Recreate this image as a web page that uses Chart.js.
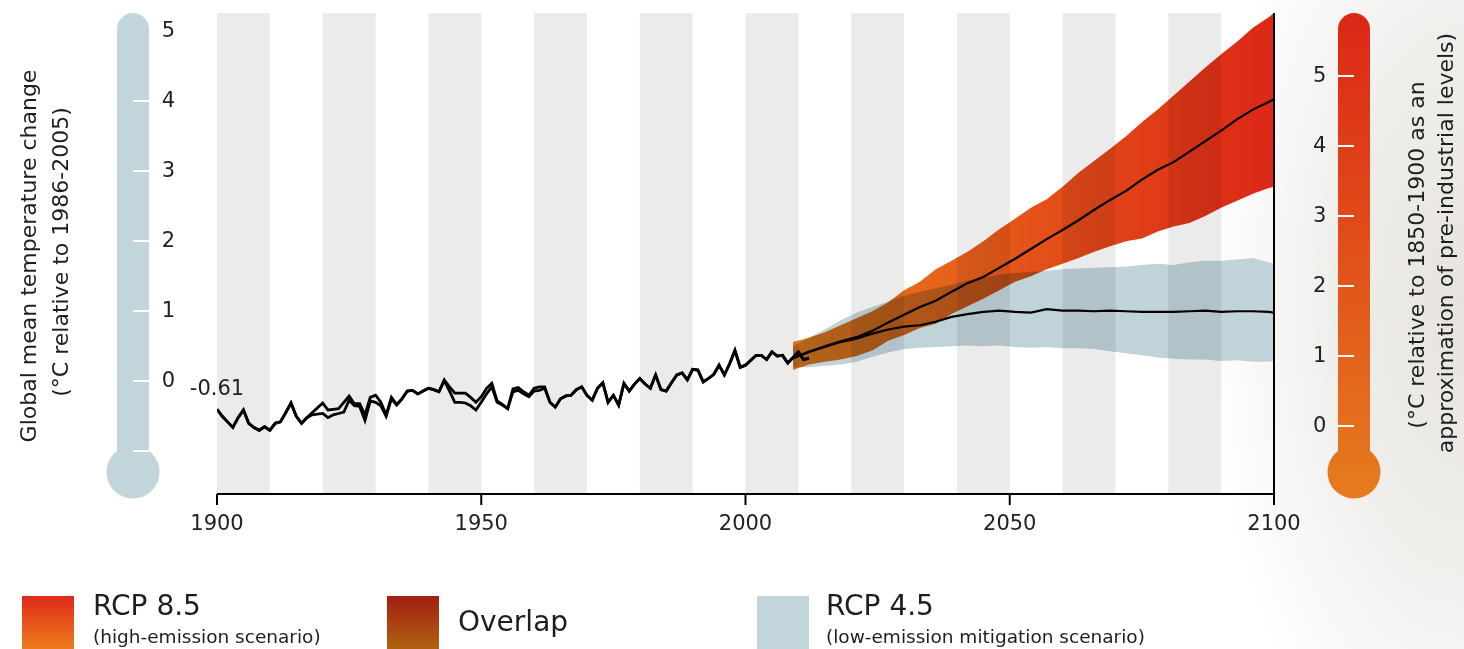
<!DOCTYPE html>
<html>
<head>
<meta charset="utf-8">
<script src="https://cdn.jsdelivr.net/npm/chart.js@4.4.1/dist/chart.umd.min.js"></script>
<style>
  html, body { margin: 0; padding: 0; }
  body {
    width: 1464px; height: 649px; overflow: hidden; position: relative;
    background: radial-gradient(ellipse 260px 520px at 1464px 300px, #e6e3df 0%, #efedea 45%, rgba(255,255,255,0) 100%), #fff;
    font-family: 'DejaVu Sans', sans-serif; color: #1e1e1e;
  }
  #chart { position: absolute; left: 0; top: 0; }
  .sw { position: absolute; top: 596px; width: 52px; height: 53px; }
  .big { position: absolute; top: 589px; font-size: 28px; line-height: 34px; white-space: nowrap; }
  .small { position: absolute; top: 625px; font-size: 18.5px; line-height: 24px; white-space: nowrap; }
</style>
</head>
<body>
<canvas id="chart" width="1464" height="649"></canvas>

<div class="sw" style="left:22px;background:linear-gradient(#df2a18,#ec7c1c);"></div>
<div class="big" style="left:93px;">RCP 8.5</div>
<div class="small" style="left:93px;">(high-emission scenario)</div>

<div class="sw" style="left:387px;background:linear-gradient(#a31f12,#b0620f);"></div>
<div class="big" style="left:458px;top:605px;">Overlap</div>

<div class="sw" style="left:757px;background:#c2d5db;"></div>
<div class="big" style="left:826px;">RCP 4.5</div>
<div class="small" style="left:826px;">(low-emission mitigation scenario)</div>

<script>
// observed record, one value per year from histStart (°C relative to 1986-2005)
const histStart = 1900;
const histLow = [
  -0.40, -0.50, -0.58, -0.66, -0.52, -0.41, -0.60, -0.66, -0.70, -0.65,
  -0.70, -0.60, -0.58, -0.45, -0.31, -0.50, -0.60, -0.52, -0.48, -0.47,
  -0.46, -0.52, -0.48, -0.46, -0.44, -0.27, -0.35, -0.36, -0.56, -0.28,
  -0.30, -0.35, -0.50, -0.25, -0.34, -0.25, -0.14, -0.13, -0.18, -0.14,
  -0.10, -0.12, -0.15, 0.01, -0.14, -0.30, -0.30, -0.31, -0.35, -0.41,
  -0.30, -0.18, -0.08, -0.30, -0.34, -0.39, -0.15, -0.13, -0.18, -0.22,
  -0.14, -0.13, -0.10, -0.30, -0.37, -0.25, -0.21, -0.20, -0.12, -0.08,
  -0.20, -0.27, -0.10, -0.02, -0.30, -0.20, -0.34, -0.03, -0.14, -0.04,
  0.04, -0.04, -0.10, 0.09, -0.12, -0.14, -0.02, 0.09, 0.12, 0.02,
  0.17, 0.16, -0.01, 0.04, 0.10, 0.23, 0.09, 0.25, 0.44, 0.20,
  0.23, 0.30, 0.37, 0.37, 0.31, 0.42, 0.36, 0.37, 0.26, 0.34,
  0.42, 0.31, 0.33
];
const histHigh = [
  -0.40, -0.50, -0.58, -0.66, -0.52, -0.41, -0.60, -0.66, -0.70, -0.65,
  -0.70, -0.60, -0.58, -0.45, -0.31, -0.50, -0.60, -0.52, -0.45, -0.38,
  -0.31, -0.41, -0.40, -0.39, -0.30, -0.21, -0.32, -0.32, -0.48, -0.23,
  -0.20, -0.30, -0.48, -0.23, -0.33, -0.25, -0.14, -0.13, -0.18, -0.14,
  -0.10, -0.12, -0.15, 0.02, -0.08, -0.17, -0.17, -0.17, -0.23, -0.30,
  -0.22, -0.10, -0.03, -0.28, -0.33, -0.39, -0.11, -0.09, -0.15, -0.20,
  -0.10, -0.08, -0.08, -0.30, -0.37, -0.25, -0.21, -0.20, -0.12, -0.08,
  -0.20, -0.27, -0.10, -0.02, -0.30, -0.20, -0.34, -0.03, -0.14, -0.04,
  0.04, -0.04, -0.10, 0.09, -0.12, -0.14, -0.02, 0.09, 0.12, 0.02,
  0.17, 0.16, -0.01, 0.04, 0.10, 0.23, 0.09, 0.25, 0.44, 0.20,
  0.23, 0.30, 0.37, 0.37, 0.31, 0.42, 0.36, 0.37, 0.26, 0.34,
  0.42, 0.31, 0.33
];

// projections
const projYears = [2009, 2012, 2015, 2018, 2021, 2024, 2027, 2030, 2033, 2036, 2039,
  2042, 2045, 2048, 2051, 2054, 2057, 2060, 2063, 2066, 2069, 2072, 2075,
  2078, 2081, 2084, 2087, 2090, 2093, 2096, 2099, 2100];
const rcp85Mean = [0.33, 0.42, 0.50, 0.57, 0.63, 0.72, 0.84, 0.95, 1.06, 1.15, 1.28,
  1.40, 1.49, 1.62, 1.75, 1.89, 2.03, 2.16, 2.30, 2.45, 2.59, 2.72, 2.88,
  3.02, 3.13, 3.28, 3.43, 3.58, 3.74, 3.88, 3.99, 4.03];
const rcp85Upper = [0.56, 0.62, 0.70, 0.80, 0.90, 1.00, 1.13, 1.30, 1.42, 1.60, 1.72,
  1.85, 2.00, 2.17, 2.32, 2.48, 2.60, 2.78, 2.98, 3.15, 3.32, 3.50, 3.70,
  3.88, 4.08, 4.28, 4.48, 4.67, 4.85, 5.05, 5.20, 5.26];
const rcp85Lower = [0.16, 0.24, 0.28, 0.31, 0.36, 0.44, 0.58, 0.66, 0.76, 0.82, 0.96,
  1.07, 1.18, 1.30, 1.42, 1.50, 1.60, 1.68, 1.76, 1.85, 1.93, 2.00, 2.04,
  2.14, 2.21, 2.26, 2.36, 2.48, 2.58, 2.68, 2.76, 2.78];
const rcp45Mean = [0.33, 0.42, 0.49, 0.56, 0.61, 0.68, 0.74, 0.78, 0.80, 0.85, 0.92,
  0.96, 0.99, 1.01, 0.99, 0.98, 1.03, 1.01, 1.01, 1.00, 1.01, 1.00, 0.99,
  0.99, 0.99, 1.00, 1.01, 0.99, 1.00, 1.00, 0.99, 0.98];
const rcp45Upper = [0.50, 0.62, 0.74, 0.87, 0.98, 1.06, 1.14, 1.22, 1.28, 1.33, 1.38,
  1.44, 1.48, 1.52, 1.55, 1.56, 1.58, 1.60, 1.61, 1.62, 1.63, 1.64, 1.66,
  1.68, 1.66, 1.70, 1.72, 1.72, 1.74, 1.76, 1.70, 1.68];
const rcp45Lower = [0.20, 0.20, 0.22, 0.24, 0.28, 0.35, 0.41, 0.46, 0.48, 0.49, 0.50,
  0.51, 0.50, 0.51, 0.49, 0.48, 0.49, 0.47, 0.47, 0.46, 0.43, 0.40, 0.37,
  0.34, 0.32, 0.31, 0.31, 0.29, 0.30, 0.28, 0.28, 0.29];

// axes
const xTicks = [1900, 1950, 2000, 2050, 2100];
const leftTicks = [0, 1, 2, 3, 4, 5];
const leftMarks = [-1, 0, 1, 2, 3, 4];
const rightTicks = [0, 1, 2, 3, 4, 5];
const leftMin = -1.61, leftMax = 5.26;
const preIndustrialOffset = 0.643;
const baselineLabel = '-0.61';
const leftTitle = ['Global mean temperature change', '(°C relative to 1986-2005)'];
const rightTitle = ['(°C relative to 1850-1900 as an', 'approximation of pre-industrial levels)'];

const FONT = "'DejaVu Sans', sans-serif";
Chart.defaults.font.family = FONT;
Chart.defaults.color = '#222';

const histPts = arr => arr.map((v, i) => ({ x: histStart + i, y: v }));
const projPts = arr => arr.map((v, i) => ({ x: projYears[i], y: v }));

function rcp85Fill(context) {
  const chart = context.chart;
  const { ctx, chartArea, scales } = chart;
  if (!chartArea) return '#e4521a';
  const g = ctx.createLinearGradient(scales.x.getPixelForValue(2009), 0, scales.x.getPixelForValue(2100), 0);
  g.addColorStop(0, '#ec7a1e');
  g.addColorStop(0.35, '#e6601a');
  g.addColorStop(0.6, '#e24818');
  g.addColorStop(1, '#dc2716');
  return g;
}

const decor = {
  id: 'decor',
  beforeDraw(chart) {
    const { ctx, chartArea, scales } = chart;
    const top = chartArea.top;
    ctx.save();
    // left thermometer
    ctx.fillStyle = '#c2d5db';
    ctx.beginPath();
    ctx.roundRect(117, top, 32, 470 - top, [16, 16, 0, 0]);
    ctx.fill();
    ctx.beginPath();
    ctx.arc(133, 472, 26.5, 0, Math.PI * 2);
    ctx.fill();
    ctx.strokeStyle = '#fff';
    ctx.lineWidth = 2;
    leftMarks.forEach(v => {
      const y = Math.round(scales.y.getPixelForValue(v));
      ctx.beginPath(); ctx.moveTo(133, y); ctx.lineTo(149, y); ctx.stroke();
    });
    // right thermometer
    const g = ctx.createLinearGradient(0, top, 0, 498);
    g.addColorStop(0, '#dc2716');
    g.addColorStop(0.5, '#e1501a');
    g.addColorStop(1, '#e67c1e');
    ctx.fillStyle = g;
    ctx.beginPath();
    ctx.roundRect(1338, top, 32, 470 - top, [16, 16, 0, 0]);
    ctx.fill();
    ctx.beginPath();
    ctx.arc(1354, 472, 26.5, 0, Math.PI * 2);
    ctx.fill();
    rightTicks.forEach(v => {
      const y = Math.round(scales.y2.getPixelForValue(v));
      ctx.beginPath(); ctx.moveTo(1338, y); ctx.lineTo(1354, y); ctx.stroke();
    });
    // axis titles
    ctx.fillStyle = '#1e1e1e';
    ctx.font = '22px ' + FONT;
    ctx.textAlign = 'center';
    ctx.textBaseline = 'middle';
    [[leftTitle[0], 30, 256], [leftTitle[1], 62, 252], [rightTitle[0], 1418, 255], [rightTitle[1], 1447, 243]]
      .forEach(([t, x, y]) => {
        ctx.save();
        ctx.translate(x, y);
        ctx.rotate(-Math.PI / 2);
        ctx.fillText(t, 0, 0);
        ctx.restore();
      });
    ctx.restore();
  },
  beforeDatasetsDraw(chart) {
    const { ctx, chartArea, scales } = chart;
    ctx.save();
    ctx.fillStyle = '#ebebeb';
    for (let yr = xTicks[0]; yr < xTicks[xTicks.length - 1]; yr += 20) {
      const x0 = scales.x.getPixelForValue(yr);
      const x1 = scales.x.getPixelForValue(yr + 10);
      ctx.fillRect(x0, chartArea.top, x1 - x0, chartArea.bottom - chartArea.top);
    }
    ctx.restore();
    ctx.globalCompositeOperation = 'multiply';
  },
  afterDatasetsDraw(chart) {
    const { ctx, chartArea, scales } = chart;
    ctx.globalCompositeOperation = 'source-over';
    ctx.save();
    // axis frame: bottom line, right edge, tick marks
    ctx.strokeStyle = '#000';
    ctx.lineWidth = 2;
    ctx.beginPath();
    ctx.moveTo(chartArea.left, chartArea.bottom);
    ctx.lineTo(chartArea.right, chartArea.bottom);
    ctx.moveTo(chartArea.right, chartArea.top);
    ctx.lineTo(chartArea.right, chartArea.bottom);
    xTicks.forEach(v => {
      const x = scales.x.getPixelForValue(v);
      ctx.moveTo(x, chartArea.bottom);
      ctx.lineTo(x, chartArea.bottom + 11);
    });
    ctx.stroke();
    ctx.fillStyle = '#222';
    ctx.font = '21px ' + FONT;
    ctx.textAlign = 'center';
    ctx.textBaseline = 'middle';
    ctx.fillText(baselineLabel, scales.x.getPixelForValue(histStart), scales.y.getPixelForValue(histLow[0]) - 20);
    ctx.restore();
  }
};

const band = (data, extra) => Object.assign({
  data: projPts(data), borderWidth: 0, pointRadius: 0, fill: false, order: 5
}, extra);

const noPad = width => s => { s.width = width; s.paddingTop = 0; s.paddingBottom = 0; };

new Chart(document.getElementById('chart'), {
  type: 'line',
  data: {
    datasets: [
      { label: 'Observed', data: histPts(histLow), borderColor: '#000', borderWidth: 2.8, pointRadius: 0, order: 0 },
      { label: 'Observed (alt)', data: histPts(histHigh), borderColor: '#000', borderWidth: 2.8, pointRadius: 0, order: 0 },
      { label: 'RCP 8.5 mean', data: projPts(rcp85Mean), borderColor: '#000', borderWidth: 2.2, pointRadius: 0, order: 0 },
      { label: 'RCP 4.5 mean', data: projPts(rcp45Mean), borderColor: '#000', borderWidth: 2.2, pointRadius: 0, order: 0 },
      band(rcp45Upper, { label: 'RCP 4.5', fill: '+1', backgroundColor: '#c0d3d9' }),
      band(rcp45Lower, { label: 'RCP 4.5 low' }),
      band(rcp85Upper, { label: 'RCP 8.5', fill: '+1', backgroundColor: rcp85Fill }),
      band(rcp85Lower, { label: 'RCP 8.5 low' })
    ]
  },
  options: {
    responsive: false,
    animation: false,
    layout: { padding: { top: 13 } },
    elements: { line: { tension: 0 } },
    plugins: { legend: { display: false }, tooltip: { enabled: false } },
    scales: {
      x: {
        type: 'linear', min: 1900, max: 2100,
        afterFit: s => { s.height = 155; s.paddingLeft = 0; s.paddingRight = 0; },
        afterBuildTicks: s => { s.ticks = xTicks.map(v => ({ value: v })); },
        grid: { display: false, drawTicks: false },
        border: { display: false },
        ticks: { font: { size: 21 }, color: '#222', padding: 18, maxRotation: 0, autoSkip: false, callback: v => String(v) }
      },
      y: {
        position: 'left', min: leftMin, max: leftMax,
        afterFit: noPad(217),
        afterBuildTicks: s => { s.ticks = leftTicks.map(v => ({ value: v })); },
        grid: { display: false, drawTicks: false },
        border: { display: false },
        ticks: { font: { size: 21 }, color: '#222', padding: 42, callback: v => String(v) }
      },
      y2: {
        position: 'right', min: leftMin + preIndustrialOffset, max: leftMax + preIndustrialOffset,
        afterFit: noPad(190),
        afterBuildTicks: s => { s.ticks = rightTicks.map(v => ({ value: v })); },
        grid: { display: false, drawTicks: false },
        border: { display: false },
        ticks: { font: { size: 21 }, color: '#222', padding: 39, callback: v => String(v) }
      }
    }
  },
  plugins: [decor]
});
</script>
</body>
</html>
